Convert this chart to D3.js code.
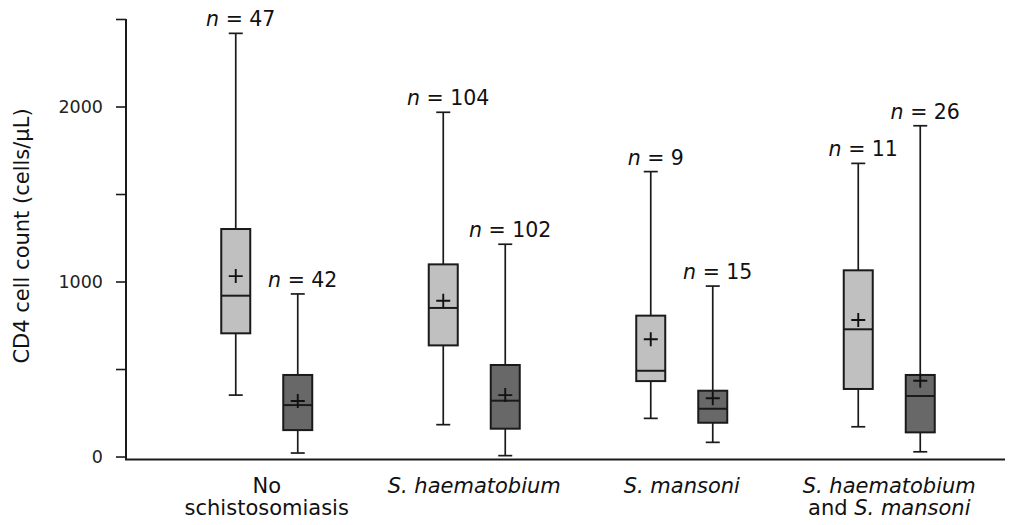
<!DOCTYPE html>
<html>
<head>
<meta charset="utf-8">
<script src="https://cdn.jsdelivr.net/npm/d3@7"></script>
<style>
  body { margin: 0; background: #fff; }
  svg { display: block; font-family: "DejaVu Sans", Verdana, sans-serif; }
</style>
</head>
<body>
<div id="chart"></div>
<script>
// Groups along the x axis (label lines, italic parts flagged)
const groups = ["none", "haem", "mans", "both"];
const groupLabels = [
    [[{ t: "No" }], [{ t: "schistosomiasis" }]],
    [[{ t: "S. haematobium", i: true }]],
    [[{ t: "S. mansoni", i: true }]],
    [[{ t: "S. haematobium", i: true }], [{ t: "and " }, { t: "S. mansoni", i: true }]]
];
const series = ["HIV-negative", "HIV-positive"];
const seriesFill = ["#c0c0c0", "#686868"];

// Box statistics, [group][series]
const nCounts   = [[47, 42], [104, 102], [9, 15], [11, 26]];
const whiskerHi = [[2418, 929], [1967, 1213], [1628, 974], [1675, 1890]];
const q3        = [[1300, 466], [1098, 523], [805, 376], [1064, 466]];
const medians   = [[919, 294], [849, 319], [490, 273], [727, 346]];
const q1        = [[704, 151], [635, 159], [431, 193], [386, 138]];
const whiskerLo = [[351, 20], [182, 5], [218, 81], [170, 27]];
const means     = [[1031, 317], [890, 351], [670, 333], [780, 433]];

const yTicks = [0, 500, 1000, 1500, 2000, 2500];

const width = 1019, height = 525;
const margin = { top: 19, left: 126, right: 14, bottom: 65 };

const svg = d3.select("#chart").append("svg")
    .attr("width", width)
    .attr("height", height);

svg.append("rect").attr("width", width).attr("height", height).attr("fill", "#fff");

const y = d3.scaleLinear()
    .domain([-17, 2500])
    .range([height - margin.bottom - 0.5, margin.top]);

const x = d3.scaleBand()
    .domain(groups)
    .range([163, 993]);

const xInner = d3.scalePoint()
    .domain(series)
    .range([-31, 31]);

const boxW = 29, capW = 14, plus = 7;
const ink = "#1a1a1a";

// flatten to one record per box
const boxes = [];
groups.forEach((g, gi) => {
    series.forEach((s, si) => {
        boxes.push({
            g, s, si,
            n: nCounts[gi][si],
            hi: whiskerHi[gi][si], q3: q3[gi][si], med: medians[gi][si],
            q1: q1[gi][si], lo: whiskerLo[gi][si], mean: means[gi][si]
        });
    });
});

// y axis
const yAxis = d3.axisLeft(y)
    .tickValues(yTicks)
    .tickSize(10)
    .tickPadding(13)
    .tickFormat(d => d % 1000 === 0 ? d : "");

const yG = svg.append("g")
    .attr("transform", `translate(${margin.left},0)`)
    .call(yAxis);
yG.select(".domain").attr("stroke", ink).attr("stroke-width", 2).attr("d",
    `M0,${y.range()[0]}V${y.range()[1]}`);
yG.selectAll(".tick line").attr("stroke", ink).attr("stroke-width", 1.6);
yG.selectAll(".tick text")
    .attr("fill", "#222")
    .style("font-size", "17.5px")
    .style("font-family", "'DejaVu Sans', Verdana, sans-serif");

// x axis line
svg.append("line")
    .attr("x1", margin.left - 1)
    .attr("x2", 1005)
    .attr("y1", y.range()[0])
    .attr("y2", y.range()[0])
    .attr("stroke", ink)
    .attr("stroke-width", 2);

// y axis title
svg.append("text")
    .attr("transform", `translate(22,236) rotate(-90)`)
    .attr("text-anchor", "middle")
    .attr("dy", "0.35em")
    .attr("fill", "#111")
    .style("font-size", "21px")
    .text("CD4 cell count (cells/\u00b5L)");

// category labels
const catG = svg.append("g");
groupLabels.forEach((lines, gi) => {
    const t = catG.append("text")
        .attr("text-anchor", "middle")
        .attr("fill", "#111")
        .style("font-size", "21px");
    lines.forEach((segs, li) => {
        segs.forEach((seg, si) => {
            const sp = t.append("tspan").text(seg.t);
            if (si === 0) {
                sp.attr("x", x(groups[gi]) + x.bandwidth() / 2)
                  .attr("y", 493 + li * 22);
            }
            if (seg.i) sp.style("font-style", "italic");
        });
    });
});

// boxes
const bx = d => x(d.g) + x.bandwidth() / 2 + xInner(d.s);

const box = svg.append("g").selectAll("g")
    .data(boxes)
    .join("g")
    .attr("transform", d => `translate(${bx(d)},0)`);

// whisker stems
box.append("line")
    .attr("y1", d => y(d.hi)).attr("y2", d => y(d.q3))
    .attr("stroke", ink).attr("stroke-width", 1.7);
box.append("line")
    .attr("y1", d => y(d.q1)).attr("y2", d => y(d.lo))
    .attr("stroke", ink).attr("stroke-width", 1.7);
// caps
box.append("line")
    .attr("x1", -capW / 2).attr("x2", capW / 2)
    .attr("y1", d => y(d.hi)).attr("y2", d => y(d.hi))
    .attr("stroke", ink).attr("stroke-width", 1.7);
box.append("line")
    .attr("x1", -capW / 2).attr("x2", capW / 2)
    .attr("y1", d => y(d.lo)).attr("y2", d => y(d.lo))
    .attr("stroke", ink).attr("stroke-width", 1.7);

// box body
box.append("rect")
    .attr("x", -boxW / 2)
    .attr("width", boxW)
    .attr("y", d => y(d.q3))
    .attr("height", d => y(d.q1) - y(d.q3))
    .attr("fill", d => seriesFill[d.si])
    .attr("stroke", ink)
    .attr("stroke-width", 2);

// median
box.append("line")
    .attr("x1", -boxW / 2).attr("x2", boxW / 2)
    .attr("y1", d => y(d.med)).attr("y2", d => y(d.med))
    .attr("stroke", ink).attr("stroke-width", 2);

// mean plus
box.append("path")
    .attr("d", d => `M${-plus},${y(d.mean)}H${plus}M0,${y(d.mean) - plus}V${y(d.mean) + plus}`)
    .attr("stroke", "#111").attr("stroke-width", 1.9).attr("fill", "none");

// n labels
const nLab = box.append("text")
    .attr("x", 5)
    .attr("y", d => y(d.hi) - 7)
    .attr("text-anchor", "middle")
    .attr("fill", "#111")
    .style("font-size", "20.5px");
nLab.append("tspan").style("font-style", "italic").text("n");
nLab.append("tspan").text(d => " = " + d.n);
</script>
</body>
</html>
